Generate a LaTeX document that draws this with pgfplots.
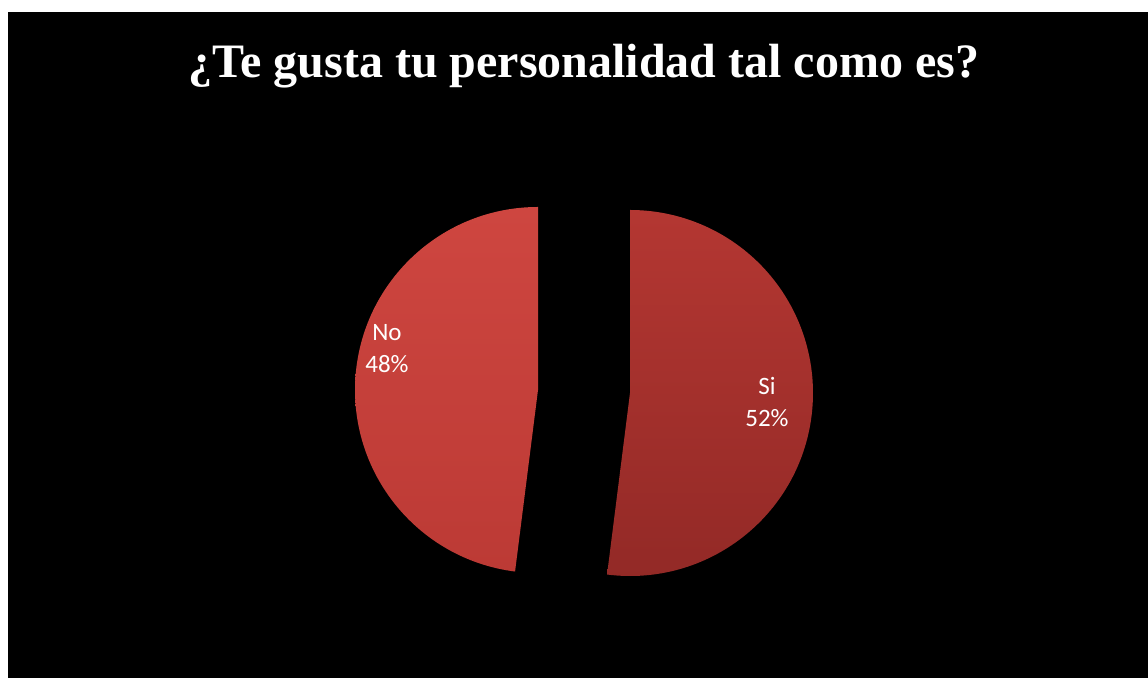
\documentclass[border=0pt]{standalone}
\usepackage{fontspec}
\setmainfont{Liberation Serif}
\newfontfamily\calibri{Carlito}
\usepackage{pgfplots}
\usepackage{pgfplotstable}
\pgfplotsset{compat=1.18}

\definecolor{noTop}{RGB}{206,70,64}
\definecolor{noBot}{RGB}{188,58,53}
\definecolor{siTop}{RGB}{180,55,50}
\definecolor{siBot}{RGB}{146,41,38}

% one table per slice: value (%), slice centre (px), start angle
\pgfplotstableread{
label value x y start
No 48 538 288 90
}\nodata
\pgfplotstableread{
label value x y start
Si 52 630 285 -97.2
}\sidata

\newcommand\pieradius{91.5pt}
\tikzset{pie slice/.style={fill=red}}
\pgfdeclareplotmark{pieslice}{%
  \path[pie slice] (0pt,0pt) -- (\sliceStart:\pieradius)
    arc[start angle=\sliceStart, delta angle=3.6*\slicePct, radius=\pieradius] -- cycle;%
}

\begin{document}
\begin{tikzpicture}
  \fill[white] (-4pt,0pt) rectangle (570pt,339pt);
  \begin{axis}[
    at={(0pt,0pt)}, anchor=south west,
    scale only axis,
    width=570pt, height=333pt,
    xmin=8, xmax=1148, ymin=0, ymax=666,
    axis lines=none,
    axis background/.style={fill=black},
    clip=false,
    /pgf/number format/assume math mode=true,
    point meta=explicit symbolic,
    visualization depends on={\thisrow{start}\as\sliceStart},
    visualization depends on={\thisrow{value}\as\slicePct},
    nodes near coords={\pgfplotspointmeta\\\pgfmathprintnumber[fixed,precision=0]{\slicePct}\%},
    every node near coord/.append style={font=\calibri\fontsize{12.5}{16}\selectfont,
      text=white, align=center, anchor=center},
  ]
    \addplot[only marks, mark=pieslice,
      /tikz/pie slice/.style={top color=noTop, bottom color=noBot, draw=none},
      every node near coord/.append style={xshift=-75.5pt, yshift=20.5pt}]
      table[x=x, y=y, meta=label] {\nodata};
    \addplot[only marks, mark=pieslice,
      /tikz/pie slice/.style={top color=siTop, bottom color=siBot, draw=none},
      every node near coord/.append style={xshift=68.5pt, yshift=-4.75pt}]
      table[x=x, y=y, meta=label] {\sidata};
    \node[font=\bfseries\fontsize{24}{28}\selectfont, text=white, anchor=base]
      at (axis cs:584,600) {¿Te gusta tu personalidad tal como es?};
  \end{axis}
\end{tikzpicture}
\end{document}
